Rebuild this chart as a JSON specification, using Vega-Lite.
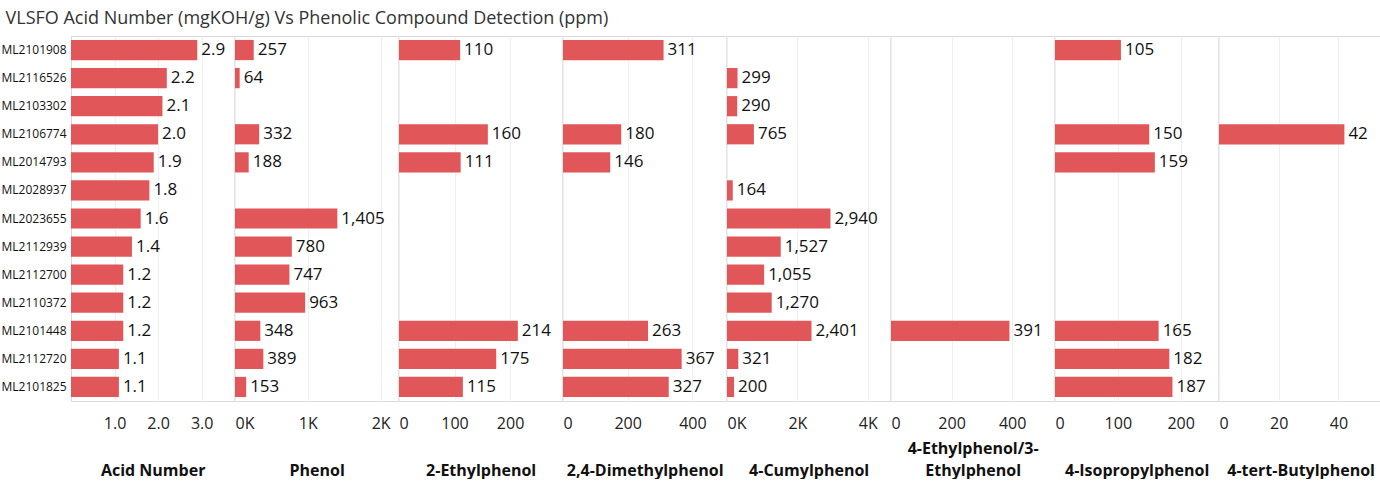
{
  "$schema": "https://vega.github.io/schema/vega-lite/v6.json",
  "title": {"text": "VLSFO Acid Number (mgKOH/g) Vs Phenolic Compound Detection (ppm)", "anchor": "start", "dx": 5, "fontSize": 18, "fontWeight": "normal", "color": "#333333", "offset": 8},
  "padding": {"left": 0, "top": 9, "right": 0, "bottom": 0},
  "spacing": 0,
  "bounds": "flush",
  "resolve": {"scale": {"y": "shared"}},
  "datasets": {
    "d": [
      {"id": "ML2101908", "m": "Acid Number", "v": 2.9},
      {"id": "ML2116526", "m": "Acid Number", "v": 2.2},
      {"id": "ML2103302", "m": "Acid Number", "v": 2.1},
      {"id": "ML2106774", "m": "Acid Number", "v": 2.0},
      {"id": "ML2014793", "m": "Acid Number", "v": 1.9},
      {"id": "ML2028937", "m": "Acid Number", "v": 1.8},
      {"id": "ML2023655", "m": "Acid Number", "v": 1.6},
      {"id": "ML2112939", "m": "Acid Number", "v": 1.4},
      {"id": "ML2112700", "m": "Acid Number", "v": 1.2},
      {"id": "ML2110372", "m": "Acid Number", "v": 1.2},
      {"id": "ML2101448", "m": "Acid Number", "v": 1.2},
      {"id": "ML2112720", "m": "Acid Number", "v": 1.1},
      {"id": "ML2101825", "m": "Acid Number", "v": 1.1},
      {"id": "ML2101908", "m": "Phenol", "v": 257},
      {"id": "ML2116526", "m": "Phenol", "v": 64},
      {"id": "ML2106774", "m": "Phenol", "v": 332},
      {"id": "ML2014793", "m": "Phenol", "v": 188},
      {"id": "ML2023655", "m": "Phenol", "v": 1405},
      {"id": "ML2112939", "m": "Phenol", "v": 780},
      {"id": "ML2112700", "m": "Phenol", "v": 747},
      {"id": "ML2110372", "m": "Phenol", "v": 963},
      {"id": "ML2101448", "m": "Phenol", "v": 348},
      {"id": "ML2112720", "m": "Phenol", "v": 389},
      {"id": "ML2101825", "m": "Phenol", "v": 153},
      {"id": "ML2101908", "m": "2-Ethylphenol", "v": 110},
      {"id": "ML2106774", "m": "2-Ethylphenol", "v": 160},
      {"id": "ML2014793", "m": "2-Ethylphenol", "v": 111},
      {"id": "ML2101448", "m": "2-Ethylphenol", "v": 214},
      {"id": "ML2112720", "m": "2-Ethylphenol", "v": 175},
      {"id": "ML2101825", "m": "2-Ethylphenol", "v": 115},
      {"id": "ML2101908", "m": "2,4-Dimethylphenol", "v": 311},
      {"id": "ML2106774", "m": "2,4-Dimethylphenol", "v": 180},
      {"id": "ML2014793", "m": "2,4-Dimethylphenol", "v": 146},
      {"id": "ML2101448", "m": "2,4-Dimethylphenol", "v": 263},
      {"id": "ML2112720", "m": "2,4-Dimethylphenol", "v": 367},
      {"id": "ML2101825", "m": "2,4-Dimethylphenol", "v": 327},
      {"id": "ML2116526", "m": "4-Cumylphenol", "v": 299},
      {"id": "ML2103302", "m": "4-Cumylphenol", "v": 290},
      {"id": "ML2106774", "m": "4-Cumylphenol", "v": 765},
      {"id": "ML2028937", "m": "4-Cumylphenol", "v": 164},
      {"id": "ML2023655", "m": "4-Cumylphenol", "v": 2940},
      {"id": "ML2112939", "m": "4-Cumylphenol", "v": 1527},
      {"id": "ML2112700", "m": "4-Cumylphenol", "v": 1055},
      {"id": "ML2110372", "m": "4-Cumylphenol", "v": 1270},
      {"id": "ML2101448", "m": "4-Cumylphenol", "v": 2401},
      {"id": "ML2112720", "m": "4-Cumylphenol", "v": 321},
      {"id": "ML2101825", "m": "4-Cumylphenol", "v": 200},
      {"id": "ML2101448", "m": "4-Ethylphenol/3-Ethylphenol", "v": 391},
      {"id": "ML2101908", "m": "4-Isopropylphenol", "v": 105},
      {"id": "ML2106774", "m": "4-Isopropylphenol", "v": 150},
      {"id": "ML2014793", "m": "4-Isopropylphenol", "v": 159},
      {"id": "ML2101448", "m": "4-Isopropylphenol", "v": 165},
      {"id": "ML2112720", "m": "4-Isopropylphenol", "v": 182},
      {"id": "ML2101825", "m": "4-Isopropylphenol", "v": 187},
      {"id": "ML2106774", "m": "4-tert-Butylphenol", "v": 42}
    ]
  },
  "data": {"name": "d"},
  "hconcat": [
    {
      "width": 163.3, "height": 365,
      "transform": [{"filter": "datum.m === 'Acid Number'"}],
      "encoding": {
        "y": {"field": "id", "type": "nominal", "sort": null, "scale": {"domain": ["ML2101908","ML2116526","ML2103302","ML2106774","ML2014793","ML2028937","ML2023655","ML2112939","ML2112700","ML2110372","ML2101448","ML2112720","ML2101825"], "paddingInner": 0.28, "paddingOuter": 0.14},
          "axis": {"title": null, "ticks": false, "domain": false, "labelAlign": "left", "labelPadding": 70, "labelFontSize": 12, "labelColor": "#111111"}},
        "x": {"field": "v", "type": "quantitative", "scale": {"domain": [0, 3.75], "nice": false},
          "axis": {"title": "Acid Number", "values": [1, 2, 3], "format": ".1f"}}
      },
      "layer": [
        {"mark": {"type": "bar", "color": "#E15759"}},
        {"mark": {"type": "text", "align": "left", "dx": 4, "fontSize": 17, "color": "#111111"}, "encoding": {"text": {"field": "v", "format": ".1f"}}}
      ]
    },
    {
      "width": 163.3, "height": 365,
      "transform": [{"filter": "datum.m === 'Phenol'"}],
      "encoding": {
        "y": {"field": "id", "type": "nominal", "sort": null, "scale": {"domain": ["ML2101908","ML2116526","ML2103302","ML2106774","ML2014793","ML2028937","ML2023655","ML2112939","ML2112700","ML2110372","ML2101448","ML2112720","ML2101825"], "paddingInner": 0.28, "paddingOuter": 0.14}, "axis": null},
        "x": {"field": "v", "type": "quantitative", "scale": {"domain": [0, 2242], "nice": false},
          "axis": {"title": "Phenol", "values": [0, 1000, 2000], "labelExpr": "datum.value / 1000 + 'K'"}}
      },
      "layer": [
        {"mark": {"type": "bar", "color": "#E15759"}},
        {"mark": {"type": "text", "align": "left", "dx": 4, "fontSize": 17, "color": "#111111"}, "encoding": {"text": {"field": "v", "format": ",.0f"}}}
      ]
    },
    {
      "width": 163.3, "height": 365,
      "transform": [{"filter": "datum.m === '2-Ethylphenol'"}],
      "encoding": {
        "y": {"field": "id", "type": "nominal", "sort": null, "scale": {"domain": ["ML2101908","ML2116526","ML2103302","ML2106774","ML2014793","ML2028937","ML2023655","ML2112939","ML2112700","ML2110372","ML2101448","ML2112720","ML2101825"], "paddingInner": 0.28, "paddingOuter": 0.14}, "axis": null},
        "x": {"field": "v", "type": "quantitative", "scale": {"domain": [0, 294], "nice": false},
          "axis": {"title": "2-Ethylphenol", "values": [0, 100, 200]}}
      },
      "layer": [
        {"mark": {"type": "bar", "color": "#E15759"}},
        {"mark": {"type": "text", "align": "left", "dx": 4, "fontSize": 17, "color": "#111111"}, "encoding": {"text": {"field": "v", "format": ",.0f"}}}
      ]
    },
    {
      "width": 163.3, "height": 365,
      "transform": [{"filter": "datum.m === '2,4-Dimethylphenol'"}],
      "encoding": {
        "y": {"field": "id", "type": "nominal", "sort": null, "scale": {"domain": ["ML2101908","ML2116526","ML2103302","ML2106774","ML2014793","ML2028937","ML2023655","ML2112939","ML2112700","ML2110372","ML2101448","ML2112720","ML2101825"], "paddingInner": 0.28, "paddingOuter": 0.14}, "axis": null},
        "x": {"field": "v", "type": "quantitative", "scale": {"domain": [0, 505], "nice": false},
          "axis": {"title": "2,4-Dimethylphenol", "values": [0, 200, 400]}}
      },
      "layer": [
        {"mark": {"type": "bar", "color": "#E15759"}},
        {"mark": {"type": "text", "align": "left", "dx": 4, "fontSize": 17, "color": "#111111"}, "encoding": {"text": {"field": "v", "format": ",.0f"}}}
      ]
    },
    {
      "width": 163.3, "height": 365,
      "transform": [{"filter": "datum.m === '4-Cumylphenol'"}],
      "encoding": {
        "y": {"field": "id", "type": "nominal", "sort": null, "scale": {"domain": ["ML2101908","ML2116526","ML2103302","ML2106774","ML2014793","ML2028937","ML2023655","ML2112939","ML2112700","ML2110372","ML2101448","ML2112720","ML2101825"], "paddingInner": 0.28, "paddingOuter": 0.14}, "axis": null},
        "x": {"field": "v", "type": "quantitative", "scale": {"domain": [0, 4640], "nice": false},
          "axis": {"title": "4-Cumylphenol", "values": [0, 2000, 4000], "labelExpr": "datum.value / 1000 + 'K'"}}
      },
      "layer": [
        {"mark": {"type": "bar", "color": "#E15759"}},
        {"mark": {"type": "text", "align": "left", "dx": 4, "fontSize": 17, "color": "#111111"}, "encoding": {"text": {"field": "v", "format": ",.0f"}}}
      ]
    },
    {
      "width": 163.3, "height": 365,
      "transform": [{"filter": "datum.m === '4-Ethylphenol/3-Ethylphenol'"}],
      "encoding": {
        "y": {"field": "id", "type": "nominal", "sort": null, "scale": {"domain": ["ML2101908","ML2116526","ML2103302","ML2106774","ML2014793","ML2028937","ML2023655","ML2112939","ML2112700","ML2110372","ML2101448","ML2112720","ML2101825"], "paddingInner": 0.28, "paddingOuter": 0.14}, "axis": null},
        "x": {"field": "v", "type": "quantitative", "scale": {"domain": [0, 539], "nice": false},
          "axis": {"title": ["4-Ethylphenol/3-", "Ethylphenol"], "values": [0, 200, 400], "titleY": 55, "titleLineHeight": 22}}
      },
      "layer": [
        {"mark": {"type": "bar", "color": "#E15759"}},
        {"mark": {"type": "text", "align": "left", "dx": 4, "fontSize": 17, "color": "#111111"}, "encoding": {"text": {"field": "v", "format": ",.0f"}}}
      ]
    },
    {
      "width": 163.3, "height": 365,
      "transform": [{"filter": "datum.m === '4-Isopropylphenol'"}],
      "encoding": {
        "y": {"field": "id", "type": "nominal", "sort": null, "scale": {"domain": ["ML2101908","ML2116526","ML2103302","ML2106774","ML2014793","ML2028937","ML2023655","ML2112939","ML2112700","ML2110372","ML2101448","ML2112720","ML2101825"], "paddingInner": 0.28, "paddingOuter": 0.14}, "axis": null},
        "x": {"field": "v", "type": "quantitative", "scale": {"domain": [0, 260], "nice": false},
          "axis": {"title": "4-Isopropylphenol", "values": [0, 100, 200]}}
      },
      "layer": [
        {"mark": {"type": "bar", "color": "#E15759"}},
        {"mark": {"type": "text", "align": "left", "dx": 4, "fontSize": 17, "color": "#111111"}, "encoding": {"text": {"field": "v", "format": ",.0f"}}}
      ]
    },
    {
      "width": 163.3, "height": 365,
      "transform": [{"filter": "datum.m === '4-tert-Butylphenol'"}],
      "encoding": {
        "y": {"field": "id", "type": "nominal", "sort": null, "scale": {"domain": ["ML2101908","ML2116526","ML2103302","ML2106774","ML2014793","ML2028937","ML2023655","ML2112939","ML2112700","ML2110372","ML2101448","ML2112720","ML2101825"], "paddingInner": 0.28, "paddingOuter": 0.14}, "axis": null},
        "x": {"field": "v", "type": "quantitative", "scale": {"domain": [0, 54.7], "nice": false},
          "axis": {"title": "4-tert-Butylphenol", "values": [0, 20, 40]}}
      },
      "layer": [
        {"mark": {"type": "bar", "color": "#E15759"}},
        {"mark": {"type": "text", "align": "left", "dx": 4, "fontSize": 17, "color": "#111111"}, "encoding": {"text": {"field": "v", "format": ",.0f"}}}
      ]
    }
  ],
  "config": {
    "font": "Open Sans",
    "view": {"stroke": "#d9d9d9"},
    "axisX": {
      "domain": false, "ticks": false, "labelFlush": true, "labelPadding": 14, "labelFontSize": 16, "labelColor": "#222222",
      "gridColor": "#efefef", "titleFontSize": 16, "titleFontWeight": "bold", "titleColor": "#111111",
      "titleBaseline": "bottom", "titleY": 77
    }
  }
}
